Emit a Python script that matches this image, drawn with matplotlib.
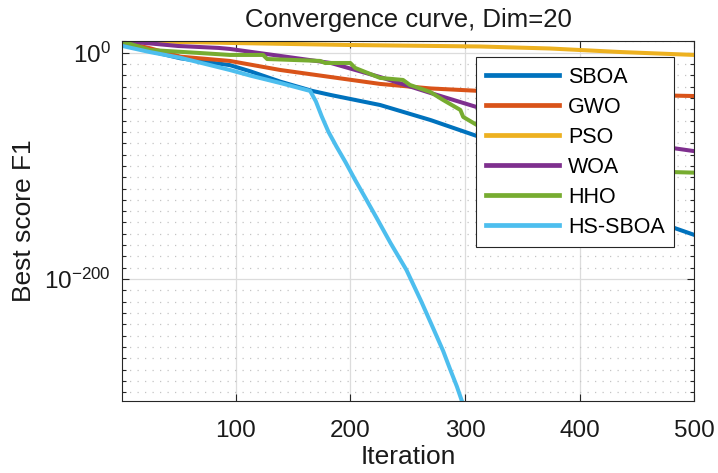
import numpy as np
import matplotlib
matplotlib.use('Agg')
import matplotlib.pyplot as plt
from matplotlib.ticker import FixedLocator, NullFormatter

plt.rcParams['font.family'] = ['Liberation Sans', 'DejaVu Sans']
plt.rcParams['mathtext.fontset'] = 'custom'
plt.rcParams['mathtext.rm'] = 'Liberation Sans'
plt.rcParams['mathtext.it'] = 'Liberation Sans:italic'
plt.rcParams['mathtext.bf'] = 'Liberation Sans:bold'

# (iteration, best score)
sboa_it = [1, 25, 52, 95, 113, 139, 167, 183, 226, 270, 313, 400, 483, 500]
sboa_val = [1e8, 3e1, 1e-5, 1e-11, 3e-17, 2.5e-26, 1.6e-34, 4e-38, 6e-47, 3e-60, 3e-75,
            1e-112, 1e-155, 1e-161]

gwo_it = [1, 25, 52, 95, 139, 183, 226, 270, 313, 374, 435, 500]
gwo_val = [3e9, 1e4, 3e-4, 5e-8, 5e-16, 3e-22, 2.5e-28, 2.5e-32, 1.6e-34, 2.5e-36, 1e-37, 5e-39]

pso_it = [1, 50, 95, 200, 313, 374, 435, 470, 500]
pso_val = [1.6e10, 3e9, 4e8, 6e6, 3e5, 5e3, 4e0, 1.6e-1, 1e-2]

woa_it = [1, 50, 85, 95, 139, 183, 226, 270, 313, 400, 483, 500]
woa_val = [2.5e10, 8e5, 1.6e4, 2e3, 1.3e-3, 8e-10, 3e-22, 2.5e-36, 1.3e-49, 1e-68, 3e-85, 1e-87]

hho_it = [1, 25, 69, 95, 124, 127.5, 173.7, 178, 200, 204.3, 226, 246, 252, 269.7, 281,
          296, 298.5, 313.3, 400, 483, 500]
hho_val = [1e10, 2.5e2, 5e-1, 1e-2, 1e-2, 2.5e-6, 5e-8, 8e-10, 8e-10, 3e-14, 5e-23, 8e-25,
           3e-29, 2e-35, 1.6e-42, 2.5e-51, 1.6e-57, 2.5e-66, 1e-88, 3e-106, 1e-106]

hs_it = [1, 25, 52, 95, 113, 139, 165, 170, 175, 181, 188, 196, 204, 213, 223, 235, 249,
         262, 272, 281, 287, 293, 297]
hs_val = [1e6, 4e0, 3e-5, 5e-16, 5e-21, 1.6e-27, 1.6e-34, 1e-43, 1e-56, 1e-70, 1e-83,
          1e-97, 1e-112, 1e-128, 1e-146, 1e-168, 1e-192, 1e-220, 1.6e-243, 3e-264, 3e-280,
          1e-295, 1.6e-307]

names = ['SBOA', 'GWO', 'PSO', 'WOA', 'HHO', 'HS-SBOA']
series = [(sboa_it, sboa_val), (gwo_it, gwo_val), (pso_it, pso_val),
          (woa_it, woa_val), (hho_it, hho_val), (hs_it, hs_val)]
colors = ['#0072BD', '#D95319', '#EDB120', '#7E2F8E', '#77AC30', '#4DBEEE']

fig = plt.figure(figsize=(7.18, 4.73), dpi=100)
ax = fig.add_axes([0.170, 0.153, 0.797, 0.761])

for (it, val), name, c in zip(series, names, colors):
    ax.semilogy(it, val, color=c, linewidth=2.9, label=name, solid_joinstyle='round')

ax.set_xlim(1, 500)
ax.set_ylim(10 ** -307.4, 10 ** 10.6)
ax.set_xticks([100, 200, 300, 400, 500])
ax.yaxis.set_major_locator(FixedLocator([1e-200, 1e0]))
ax.set_yticklabels(['$10^{-200}$', '$10^{0}$'])
ax.yaxis.set_minor_locator(FixedLocator([10.0 ** k for k in range(-300, 11, 10)
                                         if k not in (0, -200)]))
ax.yaxis.set_minor_formatter(NullFormatter())

ax.set_axisbelow(True)
ax.grid(True, which='major', color='#dcdcdc', linestyle='-', linewidth=0.9)
ax.grid(True, which='minor', axis='y', color='#c4c4c4', linestyle=(0, (1, 5)), linewidth=0.9)

ax.tick_params(which='both', direction='in', top=True, right=True, color='#262626',
               labelsize=17.5, labelcolor='#1a1a1a')
ax.tick_params(axis='x', pad=14)
ax.tick_params(axis='y', pad=8)
ax.tick_params(which='major', length=5, width=0.8)
ax.tick_params(which='minor', length=3, width=0.8)
for s in ax.spines.values():
    s.set_color('#262626')
    s.set_linewidth(0.8)

ax.set_title('Convergence curve, Dim=20', fontsize=18.5, pad=10, color='#1a1a1a')
ax.set_xlabel('Iteration', fontsize=19, color='#1a1a1a', labelpad=2)
ax.set_ylabel('Best score F1', fontsize=19, color='#1a1a1a', labelpad=6)

leg = ax.legend(loc='upper right', bbox_to_anchor=(0.965, 0.955), borderaxespad=0,
                fontsize=15.5, fancybox=False, framealpha=1, edgecolor='#262626',
                handlelength=3.4, handletextpad=0.4, labelspacing=0.42, borderpad=0.45)
leg.get_frame().set_linewidth(0.8)
for line in leg.get_lines():
    line.set_linewidth(3.4)

fig.savefig('out.png', dpi=100)
